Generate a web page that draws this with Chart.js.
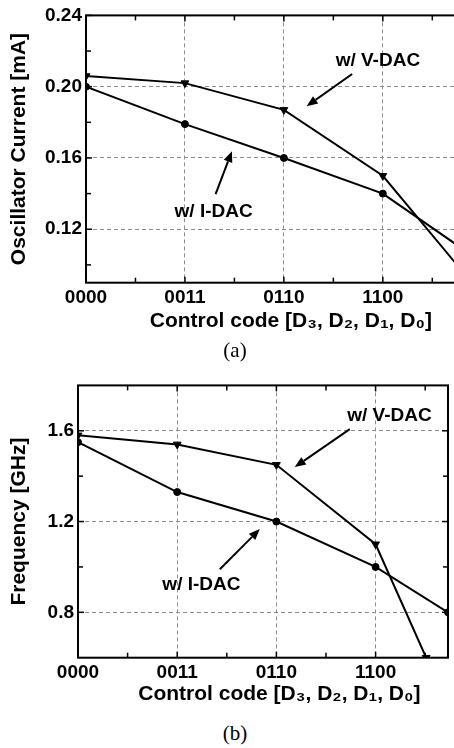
<!DOCTYPE html>
<html>
<head>
<meta charset="utf-8">
<script src="https://cdn.jsdelivr.net/npm/chart.js@4.4.1/dist/chart.umd.min.js"></script>
<style>
  html, body { margin: 0; padding: 0; background: #fff; overflow: hidden; width: 454px; height: 748px; }
  canvas { position: absolute; left: 0; }
  #chartA { top: 0; }
  #chartB { top: 370px; }
  .cap { position: absolute; left: 185px; width: 100px; text-align: center; font: 21px "Liberation Serif", "Times New Roman", serif; line-height: 24px; }
</style>
</head>
<body>
<canvas id="chartA" width="466" height="345"></canvas>
<canvas id="chartB" width="454" height="345"></canvas>
<div class="cap" style="top: 338px;">(a)</div>
<div class="cap" style="top: 721px;">(b)</div>
<script>
// x axis: control codes, evenly spaced
const codeLabels = ['0000', '0011', '0110', '1100'];
const xTicks = [0, 0.5, 1, 1.5, 2, 2.5, 3, 3.5];

// (a) oscillator current [mA] -- frame runs past the picture's right edge
const currPos = [0, 1, 2, 3, 3.78];
const currVdac = [0.206, 0.202, 0.187, 0.150, 0.098];
const currIdac = [0.200, 0.179, 0.160, 0.140, 0.110];
const yTicksA = [0.10, 0.12, 0.14, 0.16, 0.18, 0.20, 0.22, 0.24];
const yMajorA = [0.12, 0.16, 0.20, 0.24];

// (b) frequency [GHz] -- last I-DAC point sits on the right frame
const freqIdacPos = [0, 1, 2, 3, 3.73];
const freqVdacPos = [0, 1, 2, 3, 3.51];
const freqVdac = [1.58, 1.54, 1.45, 1.10, 0.60];
const freqIdac = [1.55, 1.33, 1.20, 1.00, 0.80];
const yTicksB = [0.8, 1.0, 1.2, 1.4, 1.6];
const yMajorB = [0.8, 1.2, 1.6];

const BOLD = '"Liberation Sans", Arial, sans-serif';

const pts = (xs, ys) => ys.map((v, i) => ({ x: xs[i], y: v }));
const isMajor = (list, v) => list.some(m => Math.abs(m - v) < 1e-9);

// frame with inward ticks, arrows + labels, and the x axis title
const framePlugin = {
  id: 'frame',
  afterDatasetsDraw(chart, args, opts) {
    const { ctx, chartArea: a, scales: { x, y } } = chart;
    const seg = (x1, y1, x2, y2) => { ctx.beginPath(); ctx.moveTo(x1, y1); ctx.lineTo(x2, y2); ctx.stroke(); };
    ctx.save();
    ctx.strokeStyle = '#000';
    ctx.fillStyle = '#000';
    ctx.lineWidth = 1.5;
    x.ticks.forEach(t => {
      const px = x.getPixelForValue(t.value);
      const len = Number.isInteger(t.value) ? 6 : 5;
      seg(px, a.bottom, px, a.bottom - len);
      seg(px, a.top, px, a.top + len);
    });
    y.ticks.forEach(t => {
      const py = y.getPixelForValue(t.value);
      const len = isMajor(opts.yMajor, t.value) ? 6 : 5;
      seg(a.left, py, a.left + len, py);
      seg(a.right, py, a.right - len, py);
    });
    ctx.lineWidth = 2;
    ctx.strokeRect(a.left, a.top, a.right - a.left, a.bottom - a.top);

    // annotations
    ctx.font = 'bold 19px ' + BOLD;
    ctx.textAlign = 'center';
    ctx.textBaseline = 'middle';
    opts.notes.forEach(n => {
      ctx.fillText(n.text, x.getPixelForValue(n.at[0]), y.getPixelForValue(n.at[1]));
      const x1 = x.getPixelForValue(n.from[0]), y1 = y.getPixelForValue(n.from[1]);
      const x2 = x.getPixelForValue(n.to[0]), y2 = y.getPixelForValue(n.to[1]);
      const ang = Math.atan2(y2 - y1, x2 - x1);
      const hl = 11, hw = 4.5;
      const bx = x2 - hl * Math.cos(ang), by = y2 - hl * Math.sin(ang);
      ctx.lineWidth = 2;
      seg(x1, y1, bx, by);
      ctx.beginPath();
      ctx.moveTo(x2, y2);
      ctx.lineTo(bx + hw * Math.sin(ang), by - hw * Math.cos(ang));
      ctx.lineTo(bx - hw * Math.sin(ang), by + hw * Math.cos(ang));
      ctx.closePath();
      ctx.fill();
    });

    // x axis title
    ctx.font = 'bold 21px ' + BOLD;
    ctx.fillText(opts.xTitle, x.getPixelForValue(opts.xTitleAt), a.bottom + opts.xTitleDy);
    ctx.restore();
  }
};

function makeChart(id, cfg) {
  const canvas = document.getElementById(id);
  const W = canvas.width, H = canvas.height;
  return new Chart(canvas, {
    type: 'line',
    data: {
      datasets: [
        {
          label: 'w/ V-DAC',
          data: cfg.vdac,
          borderColor: '#000',
          borderWidth: 2,
          pointStyle: 'triangle',
          rotation: 180,
          pointRadius: 4.5,
          pointBorderWidth: 1,
          pointBackgroundColor: '#000',
          pointBorderColor: '#000',
          tension: 0
        },
        {
          label: 'w/ I-DAC',
          data: cfg.idac,
          borderColor: '#000',
          borderWidth: 2,
          pointStyle: 'circle',
          pointRadius: 3.5,
          pointBorderWidth: 1,
          pointBackgroundColor: '#000',
          pointBorderColor: '#000',
          tension: 0
        }
      ]
    },
    options: {
      responsive: false,
      animation: false,
      events: [],
      layout: { padding: { left: 0, top: cfg.area.top, right: W - cfg.area.right, bottom: 0 } },
      plugins: {
        legend: { display: false },
        tooltip: { enabled: false },
        frame: {
          yMajor: cfg.yMajor,
          notes: cfg.notes,
          xTitle: 'Control code [D\u2083, D\u2082, D\u2081, D\u2080]',
          xTitleAt: cfg.xTitleAt,
          xTitleDy: cfg.xTitleDy
        }
      },
      scales: {
        x: {
          type: 'linear',
          min: 0,
          max: cfg.xMax,
          afterFit: s => { s.height = H - cfg.area.bottom; },
          afterBuildTicks: s => { s.ticks = xTicks.map(v => ({ value: v })); },
          grid: {
            drawTicks: false,
            lineWidth: 1,
            color: c => (c.tick && Number.isInteger(c.tick.value)) ? '#8c8c8c' : 'rgba(0,0,0,0)'
          },
          border: { display: false, dash: [4, 3] },
          ticks: {
            autoSkip: false,
            maxRotation: 0,
            padding: 4,
            color: '#000',
            font: { family: BOLD, weight: 'bold', size: 19 },
            callback: v => Number.isInteger(v) ? codeLabels[v] : ''
          }
        },
        y: {
          type: 'linear',
          min: cfg.yMin,
          max: cfg.yMax,
          afterFit: s => { s.width = cfg.area.left; },
          afterBuildTicks: s => { s.ticks = cfg.yTicks.map(v => ({ value: v })); },
          grid: {
            drawTicks: false,
            lineWidth: 1,
            color: c => (c.tick && isMajor(cfg.yMajor, c.tick.value)) ? '#8c8c8c' : 'rgba(0,0,0,0)'
          },
          border: { display: false, dash: [4, 3] },
          title: {
            display: true,
            text: cfg.yTitle,
            color: '#000',
            padding: { top: 7, bottom: 0 },
            font: { family: BOLD, weight: 'bold', size: 21 }
          },
          ticks: {
            autoSkip: false,
            padding: 4,
            color: '#000',
            font: { family: BOLD, weight: 'bold', size: 19 },
            callback: v => isMajor(cfg.yMajor, v) ? v.toFixed(cfg.digits) : ''
          }
        }
      }
    },
    plugins: [framePlugin]
  });
}

document.addEventListener('DOMContentLoaded', () => {
  makeChart('chartA', {
    vdac: pts(currPos, currVdac),
    idac: pts(currPos, currIdac),
    xMax: 3.78,
    yMin: 0.09, yMax: 0.24,
    yTicks: yTicksA, yMajor: yMajorA, digits: 2,
    yTitle: 'Oscillator Current [mA]',
    area: { left: 86, top: 12, right: 460, bottom: 282.7 },
    xTitleAt: 2.07, xTitleDy: 39,
    notes: [
      { text: 'w/ V-DAC', at: [2.95, 0.2145], from: [2.69, 0.2071], to: [2.23, 0.189] },
      { text: 'w/ I-DAC', at: [1.29, 0.1299], from: [1.31, 0.1397], to: [1.475, 0.1638] }
    ]
  });

  makeChart('chartB', {
    vdac: pts(freqVdacPos, freqVdac),
    idac: pts(freqIdacPos, freqIdac),
    xMax: 3.73,
    yMin: 0.6, yMax: 1.8,
    yTicks: yTicksB, yMajor: yMajorB, digits: 1,
    yTitle: 'Frequency [GHz]',
    area: { left: 78, top: 15, right: 448, bottom: 287.7 },
    xTitleAt: 2.03, xTitleDy: 37,
    notes: [
      { text: 'w/ V-DAC', at: [3.14, 1.667], from: [2.74, 1.607], to: [2.185, 1.44] },
      { text: 'w/ I-DAC', at: [1.244, 0.92], from: [1.43, 0.99], to: [1.833, 1.167] }
    ]
  });
});
</script>
</body>
</html>
